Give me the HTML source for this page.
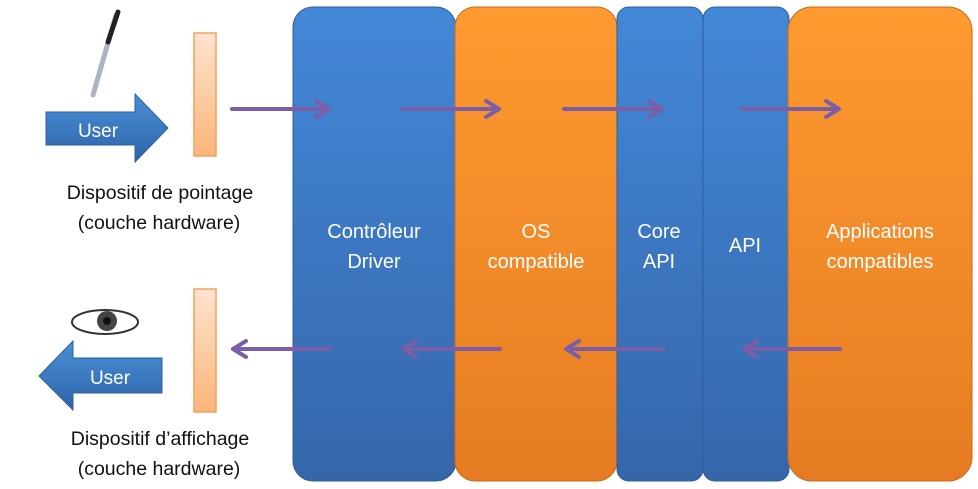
<!DOCTYPE html>
<html><head><meta charset="utf-8"><style>
html,body{margin:0;padding:0;background:#fff;width:978px;height:489px;overflow:hidden}
svg{display:block}
text{font-family:"Liberation Sans",sans-serif}
</style></head><body>
<svg width="978" height="489" viewBox="0 0 978 489" xmlns="http://www.w3.org/2000/svg">
<defs>
<linearGradient id="bl" x1="0" y1="0" x2="0" y2="1"><stop offset="0" stop-color="#4388d8"/><stop offset="1" stop-color="#3566aa"/></linearGradient>
<linearGradient id="or" x1="0" y1="0" x2="0" y2="1"><stop offset="0" stop-color="#fe9a30"/><stop offset="1" stop-color="#e67c22"/></linearGradient>
<linearGradient id="bar" x1="0" y1="0" x2="0" y2="1"><stop offset="0" stop-color="#fde3cf"/><stop offset="1" stop-color="#fbb57a"/></linearGradient>
<linearGradient id="ua" x1="0" y1="0" x2="0" y2="1"><stop offset="0" stop-color="#4a8fd6"/><stop offset="1" stop-color="#2e64a8"/></linearGradient>
</defs>
<rect x="293" y="7" width="163" height="474" rx="20" fill="url(#bl)" stroke="#2f5d9a" stroke-width="1"/>
<rect x="455" y="7" width="162" height="474" rx="20" fill="url(#or)" stroke="#c86a1e" stroke-width="1"/>
<rect x="617" y="7" width="86" height="474" rx="12" fill="url(#bl)" stroke="#2f5d9a" stroke-width="1"/>
<rect x="703" y="7" width="86" height="474" rx="12" fill="url(#bl)" stroke="#2f5d9a" stroke-width="1"/>
<rect x="788" y="7" width="184" height="474" rx="24" fill="url(#or)" stroke="#c86a1e" stroke-width="1"/>
<g fill="#fff" font-size="20" text-anchor="middle">
<text x="374" y="238">Contrôleur</text><text x="374" y="268">Driver</text>
<text x="536" y="238">OS</text><text x="536" y="268">compatible</text>
<text x="659" y="238">Core</text><text x="659" y="268">API</text>
<text x="745" y="252">API</text>
<text x="880" y="238">Applications</text><text x="880" y="268">compatibles</text>
</g>
<g stroke="#7b5ea6" stroke-width="4" fill="none" stroke-linecap="round" stroke-linejoin="round">
<path d="M232 109H329M316 101L329 109L316 117"/>
<path d="M402 109H499M486 101L499 109L486 117"/>
<path d="M564 109H662M649 101L662 109L649 117"/>
<path d="M741 109H839M826 101L839 109L826 117"/>
<path d="M330 349H233M246 341L233 349L246 357"/>
<path d="M500 349H403M416 341L403 349L416 357"/>
<path d="M663 349H566M579 341L566 349L579 357"/>
<path d="M840 349H744M757 341L744 349L757 357"/>
</g>
<rect x="194" y="33" width="22" height="123" fill="url(#bar)" stroke="#f5a05a" stroke-width="1.5"/>
<rect x="194" y="289" width="22" height="123" fill="url(#bar)" stroke="#f5a05a" stroke-width="1.5"/>
<path d="M46 112H135V94L168 128L135 162V145H46Z" fill="url(#ua)" stroke="#2d5f9e" stroke-width="1"/>
<text x="98" y="137" fill="#fff" font-size="19" text-anchor="middle">User</text>
<path d="M162 358H73V341L39 376L73 410V393H162Z" fill="url(#ua)" stroke="#2d5f9e" stroke-width="1"/>
<text x="110" y="384" fill="#fff" font-size="19" text-anchor="middle">User</text>
<line x1="93" y1="95" x2="116" y2="15" stroke="#aab4c2" stroke-width="5" stroke-linecap="round"/>
<line x1="108" y1="42" x2="118" y2="12" stroke="#222" stroke-width="5" stroke-linecap="round"/>
<ellipse cx="105" cy="322" rx="33" ry="12" fill="#fff" stroke="#333" stroke-width="2"/>
<circle cx="107" cy="321" r="10" fill="#444"/><circle cx="107" cy="321" r="4" fill="#111"/>
<g fill="#111" font-size="19.5" text-anchor="middle">
<text x="160" y="199">Dispositif de pointage</text>
<text x="159" y="229">(couche hardware)</text>
<text x="160" y="445">Dispositif d’affichage</text>
<text x="159" y="475">(couche hardware)</text>
</g>
</svg>
</body></html>
